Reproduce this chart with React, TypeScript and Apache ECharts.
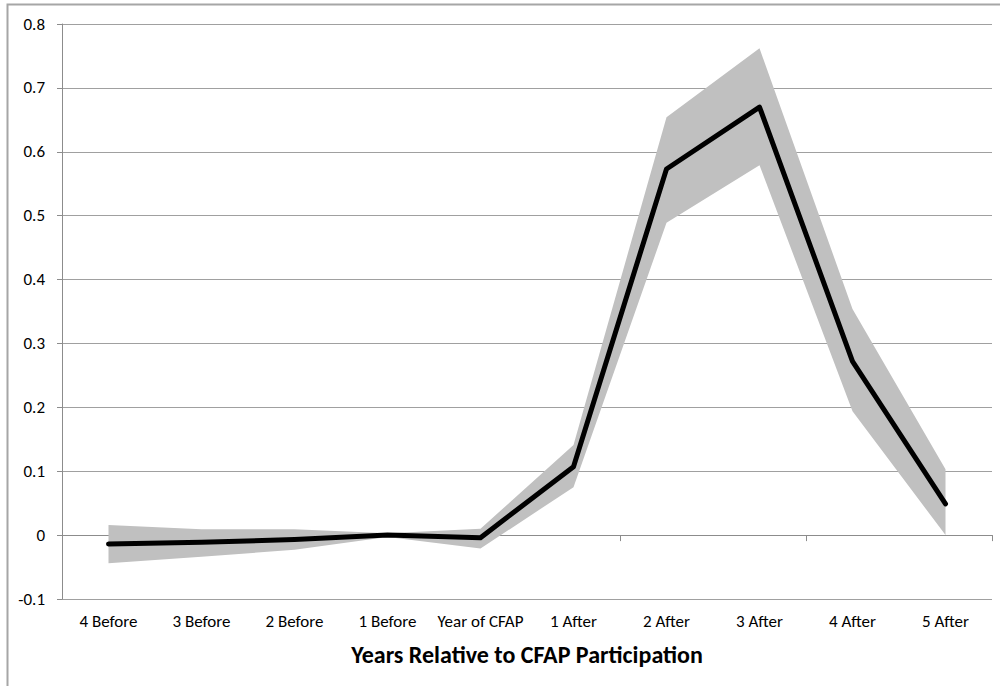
import React, { useEffect, useRef } from "react";
import * as echarts from "echarts";

const categories = [
  "4 Before",
  "3 Before",
  "2 Before",
  "1 Before",
  "Year of CFAP",
  "1 After",
  "2 After",
  "3 After",
  "4 After",
  "5 After",
];
const estimate = [-0.014, -0.011, -0.007, 0.0, -0.004, 0.107, 0.573, 0.67, 0.272, 0.049];
const upper = [0.016, 0.009, 0.009, 0.003, 0.01, 0.141, 0.654, 0.762, 0.354, 0.103];
const lower = [-0.044, -0.034, -0.023, -0.003, -0.021, 0.075, 0.489, 0.579, 0.194, 0.0];
const yTicks = { min: -0.1, max: 0.8, interval: 0.1 };
const xTitle = "Years Relative to CFAP Participation";

const FONT = "Carlito, Lato, 'Open Sans', sans-serif";

export default function App() {
  const ref = useRef<HTMLDivElement>(null);
  useEffect(() => {
    if (!ref.current) return;
    const chart = echarts.init(ref.current, null, { renderer: "svg" });
    const bandWidth = upper.map((u, i) => +(u - lower[i]).toFixed(4));
    chart.setOption({
      animation: false,
      backgroundColor: "#fff",
      grid: { left: 62, right: 8, top: 24, bottom: 87, containLabel: false },
      graphic: [
        {
          type: "rect",
          z: -10,
          shape: { x: 7.5, y: 4.5, width: 1200, height: 900 },
          style: { fill: "none", stroke: "#a6a6a6", lineWidth: 2 },
          silent: true,
        },
      ],
      xAxis: [
        {
          type: "category",
          data: categories,
          position: "bottom",
          boundaryGap: true,
          axisLine: { show: true, onZero: true, lineStyle: { color: "#8c8c8c", width: 1 } },
          axisTick: { show: true, length: 6, lineStyle: { color: "#8c8c8c" } },
          axisLabel: { show: false },
          splitLine: { show: false },
        },
        {
          type: "category",
          data: categories,
          position: "bottom",
          boundaryGap: true,
          axisLine: { show: false, onZero: false },
          axisTick: { show: false },
          axisLabel: {
            show: true,
            color: "#000",
            fontFamily: FONT,
            fontSize: 17,
            margin: 14,
            interval: 0,
          },
          name: xTitle,
          nameLocation: "middle",
          nameGap: 43,
          nameTextStyle: {
            color: "#000",
            fontFamily: FONT,
            fontSize: 24,
            fontWeight: "bold",
          },
          splitLine: { show: false },
        },
      ],
      yAxis: {
        type: "value",
        min: yTicks.min,
        max: yTicks.max,
        interval: yTicks.interval,
        axisLine: { show: true, lineStyle: { color: "#8c8c8c", width: 1 } },
        axisTick: { show: true, length: 5, lineStyle: { color: "#8c8c8c" } },
        axisLabel: {
          color: "#000",
          fontFamily: FONT,
          fontSize: 17,
          margin: 17,
          formatter: (v: number) => (Math.abs(v) < 1e-9 ? "0" : v.toFixed(1)),
        },
        splitLine: { show: true, lineStyle: { color: "#a0a0a0", width: 1 } },
      },
      series: [
        {
          name: "lower",
          type: "line",
          stack: "band",
          stackStrategy: "all",
          data: lower,
          symbol: "none",
          lineStyle: { opacity: 0 },
          z: 2,
        },
        {
          name: "band",
          type: "line",
          stack: "band",
          stackStrategy: "all",
          data: bandWidth,
          symbol: "none",
          lineStyle: { opacity: 0 },
          areaStyle: { color: "#c0c0c0", opacity: 1 },
          z: 2,
        },
        {
          name: "estimate",
          type: "line",
          data: estimate,
          symbol: "none",
          lineStyle: { color: "#000", width: 5, join: "round", cap: "round" },
          z: 5,
        },
      ],
    });
    return () => chart.dispose();
  }, []);
  return (
    <div
      ref={ref}
      style={{ position: "fixed", left: 0, top: 0, width: 1000, height: 686 }}
    />
  );
}
